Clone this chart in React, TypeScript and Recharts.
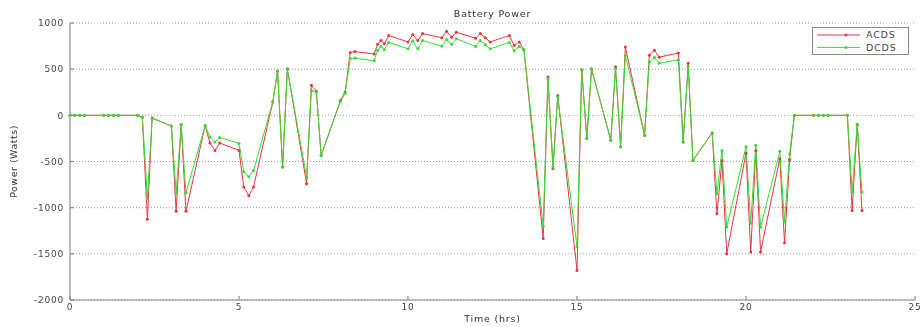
import React from 'react';
import { LineChart, Line, XAxis, YAxis, CartesianGrid, Legend } from 'recharts';

const times = [
  0, 0.14, 0.29, 0.43,
  1, 1.14, 1.29, 1.43,
  2, 2.14, 2.29, 2.43,
  3, 3.14, 3.29, 3.43,
  4, 4.14, 4.29, 4.43,
  5, 5.14, 5.29, 5.43,
  6, 6.14, 6.29, 6.43,
  7, 7.14, 7.29, 7.43,
  8, 8.14, 8.29, 8.43,
  9, 9.1, 9.2, 9.3, 9.43,
  10, 10.14, 10.29, 10.43,
  11, 11.14, 11.29, 11.43,
  12, 12.14, 12.29, 12.43,
  13, 13.14, 13.29, 13.43,
  14, 14.14, 14.29, 14.43,
  15, 15.14, 15.29, 15.43,
  16, 16.14, 16.29, 16.43,
  17, 17.14, 17.29, 17.43,
  18, 18.14, 18.29, 18.43,
  19, 19.14, 19.29, 19.43,
  20, 20.14, 20.29, 20.43,
  21, 21.14, 21.29, 21.43,
  22, 22.14, 22.29, 22.43,
  23, 23.14, 23.29, 23.43,
];

const acds = [
  0, 0, 0, 0,
  0, 0, 0, 0,
  0, -20, -1125, -30,
  -115, -1040, -100, -1040,
  -110, -300, -380, -300,
  -380, -775, -870, -775,
  145, 480, -560, 505,
  -740, 325, 260, -435,
  160, 250, 680, 690,
  665, 770, 810, 775, 865,
  795, 875, 810, 885,
  840, 910, 845, 900,
  835, 885, 840, 795,
  865, 755, 795, 710,
  -1335, 415, -575, 215,
  -1680, 495, -250, 505,
  -270, 525, -340, 740,
  -215, 650, 705, 630,
  675, -290, 565, -490,
  -190, -1065, -490, -1500,
  -410, -1480, -380, -1480,
  -470, -1380, -480, 0,
  0, 0, 0, 0,
  0, -1030, -100, -1030,
];

const dcds = [
  0, 0, 0, 0,
  0, 0, 0, 0,
  0, -20, -900, -30,
  -115, -840, -100, -840,
  -110, -235, -290, -240,
  -305, -610, -665, -600,
  145, 480, -560, 500,
  -670, 270, 250, -435,
  150, 240, 615, 620,
  590, 705, 745, 710, 790,
  720, 805, 720, 810,
  750, 820, 770, 830,
  745, 810, 765, 720,
  790, 700, 745, 710,
  -1200, 400, -560, 200,
  -1425, 490, -250, 500,
  -270, 510, -340, 650,
  -215, 575, 630, 565,
  600, -290, 525, -490,
  -190, -850, -380, -1210,
  -340, -1170, -325, -1210,
  -390, -1155, -420, 0,
  0, 0, 0, 0,
  0, -830, -100, -830,
];

const xTicks = [0, 5, 10, 15, 20, 25];
const yTicks = [-2000, -1500, -1000, -500, 0, 500, 1000];
const seriesNames = ['ACDS', 'DCDS'];
const seriesColors = ['#ee3344', '#33dd33'];
const titleText = 'Battery Power';
const xLabelText = 'Time (hrs)';
const yLabelText = 'Power (Watts)';

const data = times.map((t, i) => ({ t, ACDS: acds[i], DCDS: dcds[i] }));

const FONT = '"DejaVu Sans", "Liberation Sans", sans-serif';
const AXIS = '#8a8a8a';
const tickStyle = { fontSize: 9, fill: '#444', fontFamily: FONT, letterSpacing: 0.8 };

const W = 915;
const H = 319;
const M = { top: 15, right: 8, bottom: 0, left: 0 };
const Y_W = 62;
const X_H = 27;
const plotL = M.left + Y_W;
const plotR = W - M.right;
const plotT = M.top;
const plotB = H - X_H;

function LegendBox() {
  return (
    <svg width={97} height={28} style={{ display: 'block' }}>
      <rect x={0.5} y={0.5} width={96} height={27} fill="#fff" stroke={AXIS} strokeWidth={1} />
      {seriesNames.map((n, i) => {
        const y = 8 + i * 12.4;
        return (
          <g key={n}>
            <line x1={5} x2={48} y1={y} y2={y} stroke={seriesColors[i]} strokeWidth={1} />
            <circle cx={34} cy={y} r={1.5} fill={seriesColors[i]} />
            <text x={54} y={y + 3.3} fontSize={9.5} fill="#444" fontFamily={FONT} letterSpacing={0.8}>{n}</text>
          </g>
        );
      })}
    </svg>
  );
}

export default function App() {
  return (
    <div style={{ position: 'fixed', top: 8, left: 8, width: W, height: H }}>
      <LineChart width={W} height={H} data={data} margin={M}>
        <CartesianGrid vertical={false} stroke="#9a9a9a" strokeDasharray="1 2" />
        <XAxis
          dataKey="t"
          type="number"
          domain={[0, 25]}
          ticks={xTicks}
          height={X_H}
          stroke={AXIS}
          strokeWidth={1.2}
          tick={tickStyle}
          tickSize={-4}
          tickMargin={8}
          interval={0}
        />
        <XAxis
          xAxisId="top"
          orientation="top"
          dataKey="t"
          type="number"
          domain={[0, 25]}
          ticks={xTicks}
          height={0}
          stroke={AXIS}
          strokeWidth={1.2}
          tick={false}
          tickSize={-4}
        />
        <YAxis
          type="number"
          domain={[-2000, 1000]}
          ticks={yTicks}
          width={Y_W}
          stroke={AXIS}
          strokeWidth={1.2}
          tick={tickStyle}
          tickSize={-4}
          tickMargin={10}
          interval={0}
        />
        <YAxis
          yAxisId="right"
          orientation="right"
          type="number"
          domain={[-2000, 1000]}
          ticks={yTicks}
          width={0}
          stroke={AXIS}
          strokeWidth={1.2}
          tick={false}
          tickSize={-4}
        />
        <Legend
          layout="vertical"
          align="center"
          verticalAlign="middle"
          wrapperStyle={{ top: 18.5, left: 804, width: 97, height: 28 }}
          content={() => <LegendBox />}
        />
        <Line
          dataKey="ACDS"
          name={seriesNames[0]}
          stroke={seriesColors[0]}
          strokeWidth={1}
          dot={{ r: 1.5, fill: seriesColors[0], stroke: seriesColors[0], strokeWidth: 0 }}
          isAnimationActive={false}
        />
        <Line
          dataKey="DCDS"
          name={seriesNames[1]}
          stroke={seriesColors[1]}
          strokeWidth={1}
          dot={{ r: 1.5, fill: seriesColors[1], stroke: seriesColors[1], strokeWidth: 0 }}
          isAnimationActive={false}
        />
        <text x={(plotL + plotR) / 2} y={8.5} textAnchor="middle" fontSize={9.5} fill="#333" fontFamily={FONT} letterSpacing={0.8}>
          {titleText}
        </text>
        <text x={(plotL + plotR) / 2} y={314} textAnchor="middle" fontSize={9.5} fill="#333" fontFamily={FONT} letterSpacing={0.8}>
          {xLabelText}
        </text>
        <text
          x={8.5}
          y={(plotT + plotB) / 2}
          textAnchor="middle"
          fontSize={9.5}
          fill="#333"
          fontFamily={FONT}
          letterSpacing={0.5}
          transform={`rotate(-90 8.5 ${(plotT + plotB) / 2})`}
        >
          {yLabelText}
        </text>
      </LineChart>
    </div>
  );
}
